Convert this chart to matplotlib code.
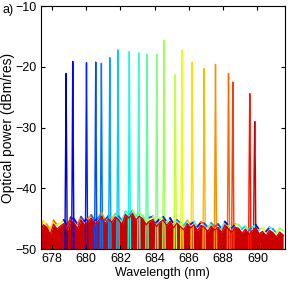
import numpy as np
import matplotlib
matplotlib.use('Agg')
import matplotlib.pyplot as plt

plt.rcParams['font.family'] = ['Liberation Sans', 'DejaVu Sans']

# laser lines: centre wavelength (nm) and peak power (dBm/res)
peak_wl = [678.83, 679.22, 680.02, 680.56, 680.89, 681.38, 681.86, 682.52,
           683.07, 683.55, 684.12, 684.54, 685.20, 685.59, 686.19, 686.89,
           687.55, 688.31, 688.56, 689.55, 689.84]
peak_db = [-21.1, -19.1, -19.3, -19.2, -19.4, -18.5, -17.2, -17.5,
           -17.7, -17.9, -17.9, -15.6, -21.3, -17.2, -19.2, -20.3,
           -19.6, -21.1, -22.5, -24.4, -29.0]

# noise floor, sampled every 0.2 nm from 677.3 nm
floor_wl = np.arange(677.3, 691.55, 0.2)
red_floor = [-47.2, -46.0, -46.4, -47.6, -45.9, -46.7, -46.2,
             -45.8, -46.9, -45.3, -45.7, -46.6, -45.2, -46.0, -45.5,
             -44.9, -45.9, -45.4, -44.6, -45.8, -45.0, -45.6, -44.7, -45.2, -45.9,
             -44.3, -44.9, -44.1, -45.2, -44.6,
             -45.0, -46.0, -45.4, -45.1, -46.3, -45.6, -45.2, -46.1, -45.4, -46.5,
             -45.7, -46.3, -46.8, -45.8, -46.5, -46.0, -47.0, -46.1, -46.4, -47.1,
             -46.2, -46.9, -46.4, -47.3, -46.0, -46.7, -47.2, -46.4, -46.6, -47.4,
             -46.7, -47.6, -47.0, -46.5, -47.5, -47.1, -47.8, -46.9, -47.3, -48.0, -47.2, -47.7]
# highest of the other traces' noise and which trace it belongs to
upper_floor = [-46.5, -45.4, -45.9, -46.8, -45.3, -46.0, -45.7,
               -45.2, -46.2, -44.8, -45.1, -45.9, -44.7, -45.4, -45.0,
               -44.4, -45.3, -44.9, -44.0, -45.2, -44.5, -45.0, -44.2, -44.6, -45.3,
               -43.8, -44.3, -43.6, -44.6, -44.0,
               -44.5, -45.4, -44.8, -44.6, -45.6, -45.0, -44.7, -45.5, -44.9, -45.8,
               -45.2, -45.7, -46.1, -45.3, -45.9, -45.5, -46.3, -45.6, -45.8, -46.4,
               -45.7, -46.3, -45.9, -46.6, -45.5, -46.1, -46.5, -45.9, -46.0, -46.7,
               -46.2, -46.9, -46.4, -46.0, -46.8, -46.5, -47.1, -46.4, -46.7, -47.3, -46.6, -47.0]
upper_idx = [15, 13, 16, 14, 17, 12, 13,
             0, 19, 2, 1, 17, 3, 1, 16,
             4, 2, 5, 16, 3, 6, 15, 7, 4, 8,
             9, 6, 10, 8, 11,
             9, 12, 3, 11, 1, 13, 2, 10, 0, 14,
             4, 12, 6, 15, 2, 9, 1, 17, 3, 10,
             5, 18, 3, 8, 0, 12, 2, 14, 9, 6,
             10, 4, 8, 1, 11, 13, 2, 9, 5, 12, 11, 14]

colors = plt.cm.jet(np.linspace(0.07, 0.93, len(peak_wl)))

fig = plt.figure(figsize=(2.91, 2.91), dpi=100)
ax = fig.add_axes([0.14, 0.144, 0.839, 0.835])

# spikes
for wl, db, c in zip(peak_wl, peak_db, colors):
    ax.plot([wl - 0.07, wl - 0.04, wl, wl + 0.04, wl + 0.07],
            [-51, -38, db, -38, -51], color=c, lw=1.0)

# noise of the other traces poking over the red one
for i in range(len(floor_wl) - 1):
    ax.plot(floor_wl[i:i + 2], upper_floor[i:i + 2], color=colors[upper_idx[i]], lw=1.3)

# red trace noise on top
red = plt.cm.jet(0.93)
ax.fill_between(floor_wl, -51, red_floor, color=red, lw=0)
ax.plot(floor_wl, red_floor, color=red, lw=1.0)

ax.set_xlim(677.35, 691.6)
ax.set_ylim(-50, -10)
ax.set_xticks([678, 680, 682, 684, 686, 688, 690])
ax.set_yticks([-50, -40, -30, -20, -10])
ax.tick_params(direction='in', top=True, right=True, labelsize=9, length=3, width=0.8, pad=3)
for s in ax.spines.values():
    s.set_linewidth(0.8)
ax.set_xlabel('Wavelength (nm)', fontsize=9, labelpad=1)
ax.set_ylabel('Optical power (dBm/res)', fontsize=10, labelpad=0)
fig.text(0.01, 0.955, 'a)', fontsize=9)

fig.savefig('out.png', dpi=100)
